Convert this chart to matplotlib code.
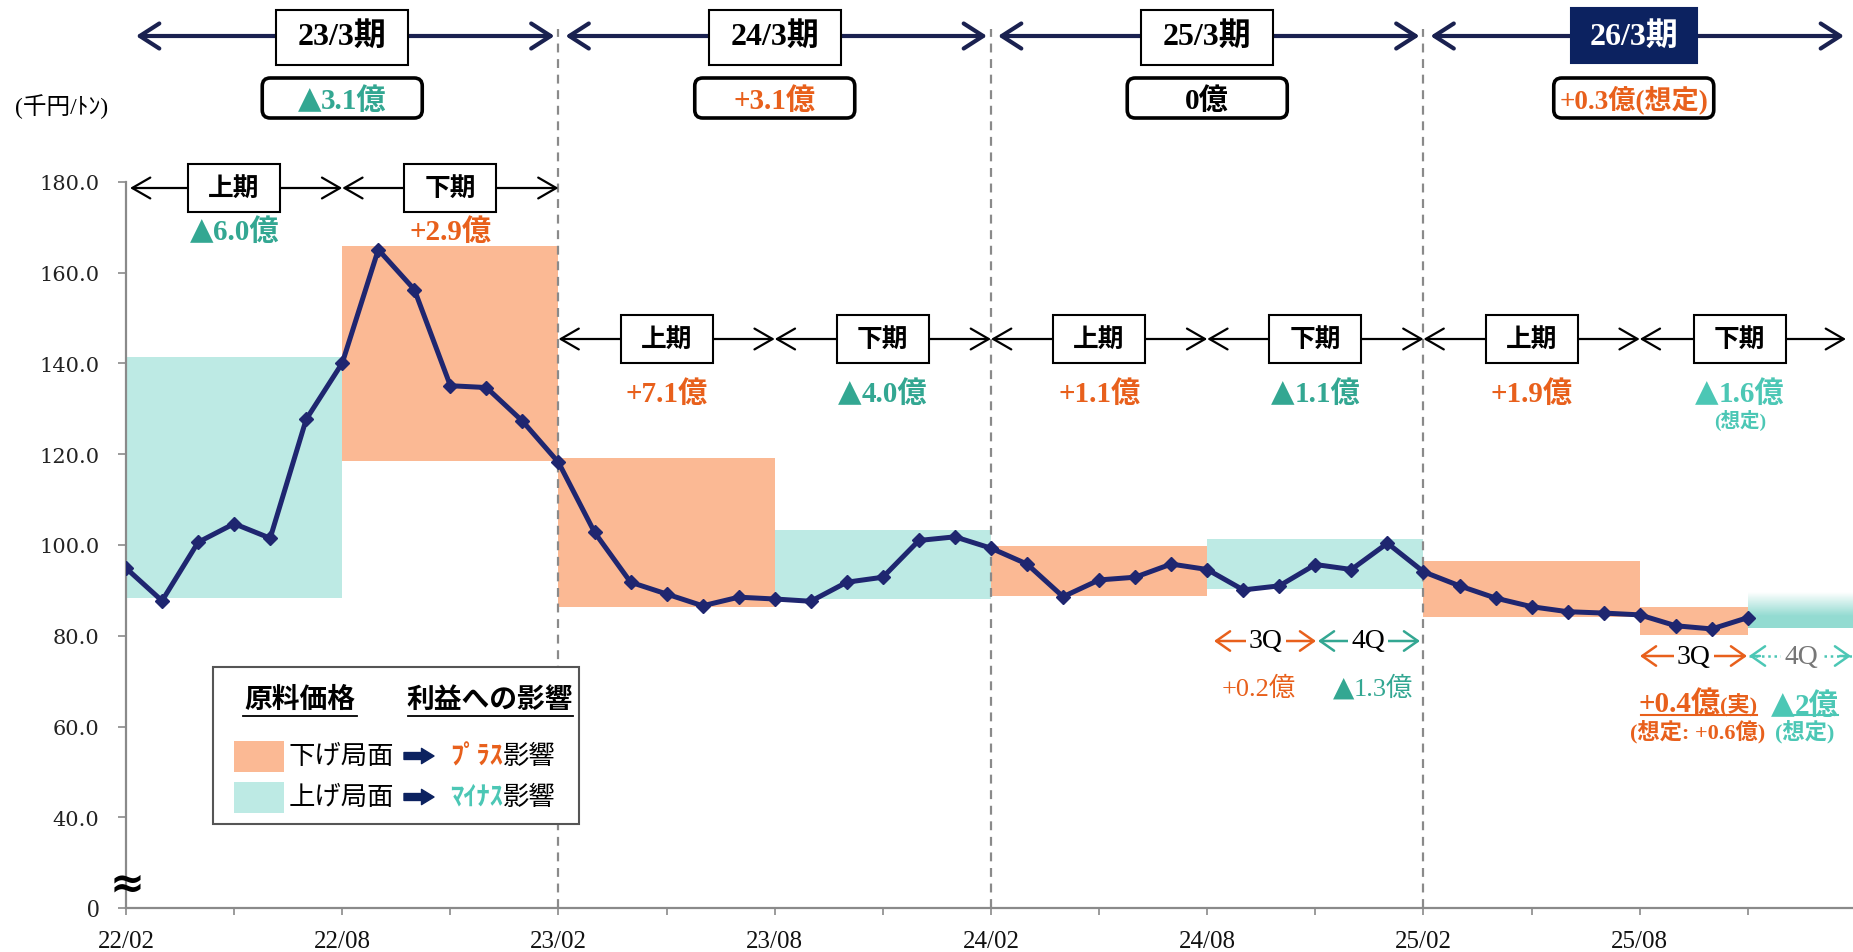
import matplotlib
matplotlib.use("Agg")
import matplotlib.pyplot as plt
import matplotlib.transforms as mtransforms
from matplotlib.patches import Rectangle, FancyBboxPatch, FancyArrowPatch
from matplotlib.lines import Line2D
import numpy as np

W, H = 1853, 953
MIX = ["Liberation Serif", "Noto Sans CJK JP"]
plt.rcParams["font.family"] = MIX

# monthly raw material price, 22/02 .. 25/11 (thousand yen / ton)
price = [94.9, 87.7, 100.6, 104.7, 101.5, 127.7, 140.1, 165.1, 156.3, 135.1, 134.7, 127.3,
         118.2, 102.8, 91.8, 89.2, 86.6, 88.5, 88.1, 87.6, 91.8, 92.9, 101.0, 101.8,
         99.3, 95.8, 88.6, 92.3, 92.9, 95.8, 94.6, 90.1, 91.0, 95.7, 94.6, 100.4,
         94.1, 91.0, 88.3, 86.4, 85.3, 85.0, 84.6, 82.2, 81.5, 84.0]
months = np.arange(len(price))

# price range per half / quarter (down = plus effect, up = minus effect)
band_start = [0, 6, 12, 18, 24, 30, 36, 42]
band_end = [6, 12, 18, 24, 30, 36, 42, 45]
band_low = [88.4, 118.6, 86.4, 88.0, 88.8, 90.2, 84.2, 80.2]
band_high = [141.4, 166.0, 119.2, 103.4, 99.8, 101.3, 96.5, 86.3]
band_kind = ["up", "down", "down", "up", "down", "up", "down", "down"]
# assumed range for 26/3 4Q
fc_start, fc_end, fc_low, fc_high = 45, 48, 81.8, 89.6

periods = ["23/3期", "24/3期", "25/3期", "26/3期"]
period_mid = [6, 18, 30, 42]
period_total = ["▲3.1億", "+3.1億", "0億", "+0.3億(想定)"]
period_total_kind = ["minus", "plus", "zero", "plus"]

half_names = ["上期", "下期"] * 4
half_mid = [3, 9, 15, 21, 27, 33, 39, 45]
half_effect = ["▲6.0億", "+2.9億", "+7.1億", "▲4.0億", "+1.1億", "▲1.1億", "+1.9億", "▲1.6億"]
half_kind = ["minus", "plus", "plus", "minus", "plus", "minus", "plus", "fc"]

x_labels = ["22/02", "22/08", "23/02", "23/08", "24/02", "24/08", "25/02", "25/08"]
y_ticks = [20, 40, 60, 80, 100, 120, 140, 160, 180]
y_labels = ["0", "40.0", "60.0", "80.0", "100.0", "120.0", "140.0", "160.0", "180.0"]

ORANGE_FILL = "#FBB994"
CYAN_FILL = "#BDEAE4"
NAVY = "#1F2670"
NAVY_DARK = "#1A2150"
ORANGE = "#E8601C"
TEAL = "#33A792"
TEAL_LT = "#4CC7B5"
GRAY = "#8A8A8A"
TXT_COLOR = {"plus": ORANGE, "minus": TEAL, "zero": "black", "fc": TEAL_LT}

fig = plt.figure(figsize=(W / 100, H / 100), dpi=100)
AX_L, AX_B, AX_W, AX_H = 126, 44, 1730, 726
ax = fig.add_axes([AX_L / W, AX_B / H, AX_W / W, AX_H / H])
PXM = AX_W / 48.0
renderer = fig.canvas.get_renderer()

# pixel coordinates (origin top-left) for the annotation layer
P = mtransforms.Affine2D().scale(1 / W, -1 / H).translate(0, 1) + fig.transFigure


def px(m):
    return AX_L + m * PXM


def text(x, y, s, size, color="black", weight="normal", ha="center", va="center", z=8, **kw):
    return fig.text(x / W, 1 - y / H, s, fontsize=size, color=color, fontweight=weight,
                    ha=ha, va=va, zorder=z, **kw)


def amount(x, y, s, size, color, weight="bold"):
    """Centred amount label; y is the vertical middle of the digits."""
    base = y + 0.33 * size * 100 / 72
    if not s.startswith("▲"):
        return text(x, base, s, size, color, weight, va="baseline")
    t1 = text(0, base, "▲", size * 1.05, color, family="DejaVu Sans", ha="left", va="baseline")
    t2 = text(0, base, s[1:], size, color, weight, ha="left", va="baseline")
    w1 = t1.get_window_extent(renderer).width
    w2 = t2.get_window_extent(renderer).width
    x0 = x - (w1 + w2) / 2
    t1.set_x(x0 / W)
    t2.set_x((x0 + w1) / W)
    return t2


def rect(x0, y0, w, h, fc="white", ec="black", lw=1.5, z=5):
    fig.add_artist(Rectangle((x0, y0), w, h, transform=P, fc=fc, ec=ec, lw=lw, zorder=z))


def rbox(xc, yc, w, h, lw=2.6):
    fig.add_artist(FancyBboxPatch((xc - w / 2, yc - h / 2), w, h, transform=P,
                                  boxstyle="round,pad=0,rounding_size=8",
                                  fc="white", ec="black", lw=lw, zorder=5))


def arrow(x0, x1, y, color, lw, hl, hw, style="<->", z=4):
    fig.add_artist(FancyArrowPatch((x0, y), (x1, y), transform=P,
                                   arrowstyle=f"{style},head_length={hl},head_width={hw}",
                                   mutation_scale=1, lw=lw, color=color,
                                   shrinkA=0, shrinkB=0, zorder=z))


def hline(x0, x1, y, color, lw=1.5, ls="-"):
    fig.add_artist(Line2D([x0, x1], [y, y], transform=P, color=color, lw=lw, ls=ls, zorder=6))


# ---- data layer ----
for s, e, lo, hi, k in zip(band_start, band_end, band_low, band_high, band_kind):
    ax.add_patch(Rectangle((s, lo), e - s, hi - lo, fc=ORANGE_FILL if k == "down" else CYAN_FILL,
                           ec="none", zorder=1))

# 4Q assumption band fades out towards the top
grad = np.linspace(0, 1, 100)[:, None]
rgba = np.zeros((100, 1, 4))
rgba[..., 0], rgba[..., 1], rgba[..., 2] = 0.58, 0.86, 0.82
rgba[..., 3] = np.clip(grad * 1.5, 0, 1)
ax.imshow(rgba, extent=(fc_start, fc_end, fc_low, fc_high), origin="upper", aspect="auto",
          zorder=1, interpolation="bilinear")

# fiscal year boundaries run up into the header (top at y=30 px)
for m in (12, 24, 36):
    ax.axvline(m, ymin=0, ymax=(H - AX_B - 30) / AX_H, color=GRAY, lw=1.6, ls=(0, (4, 3)),
               clip_on=False, zorder=2)

ax.plot(months, price, color=NAVY, lw=3.6, marker="D", markersize=7, zorder=3)

ax.set_xlim(0, 48)
ax.set_ylim(20, 180)
ax.set_xticks(range(0, 43, 6))
ax.set_xticks(range(3, 46, 6), minor=True)
ax.set_xticklabels(x_labels)
ax.set_yticks(y_ticks)
ax.set_yticklabels(y_labels)
for sp in ("top", "right"):
    ax.spines[sp].set_visible(False)
for sp in ("left", "bottom"):
    ax.spines[sp].set_color(GRAY)
    ax.spines[sp].set_linewidth(1.6)
ax.tick_params(axis="x", which="both", length=5, width=1.2, color=GRAY, pad=11,
               labelsize=18, labelcolor="#111111")
ax.tick_params(axis="y", length=6, width=1.2, color=GRAY, pad=13, labelsize=15,
               labelcolor="#222222")
for t in ax.get_yticklabels():
    t.set_family("DejaVu Serif")
ax.get_yticklabels()[0].set_family("Liberation Serif")
ax.get_yticklabels()[0].set_fontsize(18)
ax.set_facecolor("none")

# axis break mark and unit
text(127, 885, "≈", 30, weight="bold", family="DejaVu Sans")
text(62, 107, "(千円/ﾄﾝ)", 17)

# ---- fiscal year row ----
for i, (name, mid, tot, k) in enumerate(zip(periods, period_mid, period_total, period_total_kind)):
    last = i == 3
    xl = px(mid - 6) + (10 if i == 0 else 7)
    xr = W - 9 if last else px(mid + 6) - 4
    arrow(xl, xr, 37, NAVY_DARK, 3.0, 14, 9)
    xc = px(mid) - 6 if last else px(mid)
    bw = 126 if last else 132
    rect(xc - bw / 2, 9 if last else 11, bw, 55,
         fc="#0C2260" if last else "white", ec="#0C2260" if last else "black", lw=1.5)
    text(xc, 37, name, 23, color="white" if last else "black", weight="bold")
    rbox(xc, 99, 160, 40)
    amount(xc, 99, tot, 19.5 if last else 21, TXT_COLOR[k])

# ---- half-year row ----
for i, (name, mid, eff, k) in enumerate(zip(half_names, half_mid, half_effect, half_kind)):
    y = 189 if i < 2 else 340
    ly = 230 if i < 2 else 392
    x0 = px(mid - 3) + (4 if i == 0 else 0)
    x1 = px(mid + 3) if i < 7 else W - 7
    arrow(x0, x1, y, "black", 1.6, 13, 7.5)
    xc = px(mid) if i < 7 else px(mid) - 8
    rect(xc - 46, y - 24, 92, 48, lw=1.5)
    text(xc, y, name, 18.5, weight="bold")
    amount(xc, ly, eff, 21, TXT_COLOR[k])
text(px(45) - 8, 420, "(想定)", 14, color=TEAL_LT, weight="bold")

# ---- quarter detail for the latest halves ----
arrow(1214, 1316, 642, ORANGE, 1.8, 10, 7)
text(1266, 642, "3Q", 20, bbox=dict(fc="white", ec="none", pad=2))
arrow(1318, 1420, 642, TEAL, 1.8, 10, 7)
text(1368, 642, "4Q", 20, bbox=dict(fc="white", ec="none", pad=2))
amount(1259, 687, "+0.2億", 19, ORANGE, weight="normal")
amount(1373, 687, "▲1.3億", 19, TEAL, weight="normal")

arrow(1640, 1747, 657, ORANGE, 1.8, 10, 7)
text(1694, 657, "3Q", 20, bbox=dict(fc="white", ec="none", pad=2))
hline(1749, 1852, 657, TEAL_LT, lw=1.8, ls=(0, (1, 1.5)))
arrow(1749, 1760, 657, TEAL_LT, 1.8, 10, 7, style="<-")
arrow(1840, 1851, 657, TEAL_LT, 1.8, 10, 7, style="->")
text(1801, 657, "4Q", 20, color="#777777", bbox=dict(fc="white", ec="none", pad=2))

text(1720, 712, "+0.4億", 21, color=ORANGE, weight="bold", ha="right", va="baseline")
text(1720, 712, "(実)", 16, color=ORANGE, weight="bold", ha="left", va="baseline")
hline(1641, 1757, 716, ORANGE, lw=1.5)
text(1698, 732, "(想定: +0.6億)", 16, color=ORANGE, weight="bold")
amount(1805, 704, "▲2億", 21, TEAL_LT)
hline(1774, 1838, 716, TEAL_LT, lw=1.5)
text(1805, 732, "(想定)", 16, color=TEAL_LT, weight="bold")

# ---- legend ----
rect(213, 668, 366, 157, fc="white", ec="#555555", lw=1.5, z=5)
text(300, 701, "原料価格", 20, weight="bold")
hline(243, 357, 717, "black", lw=1.3)
text(490, 701, "利益への影響", 20, weight="bold")
hline(408, 573, 717, "black", lw=1.3)
for y, fc, lab, eff, col in [(757, ORANGE_FILL, "下げ局面", "ﾌﾟﾗｽ", ORANGE),
                             (798, CYAN_FILL, "上げ局面", "ﾏｲﾅｽ", TEAL_LT)]:
    rect(234, y - 15, 50, 31, fc=fc, ec="none", lw=0, z=6)
    text(289, y, lab, 19, ha="left")
    fig.add_artist(FancyArrowPatch((404, y), (434, y), transform=P,
                                   arrowstyle="simple,head_length=9,head_width=11,tail_width=5",
                                   mutation_scale=1, color="#0C2260", shrinkA=0, shrinkB=0,
                                   zorder=6))
    text(450, y, eff, 19, color=col, weight="bold", ha="left")
    text(503, y, "影響", 19, ha="left")

fig.savefig("out.png", dpi=100)
